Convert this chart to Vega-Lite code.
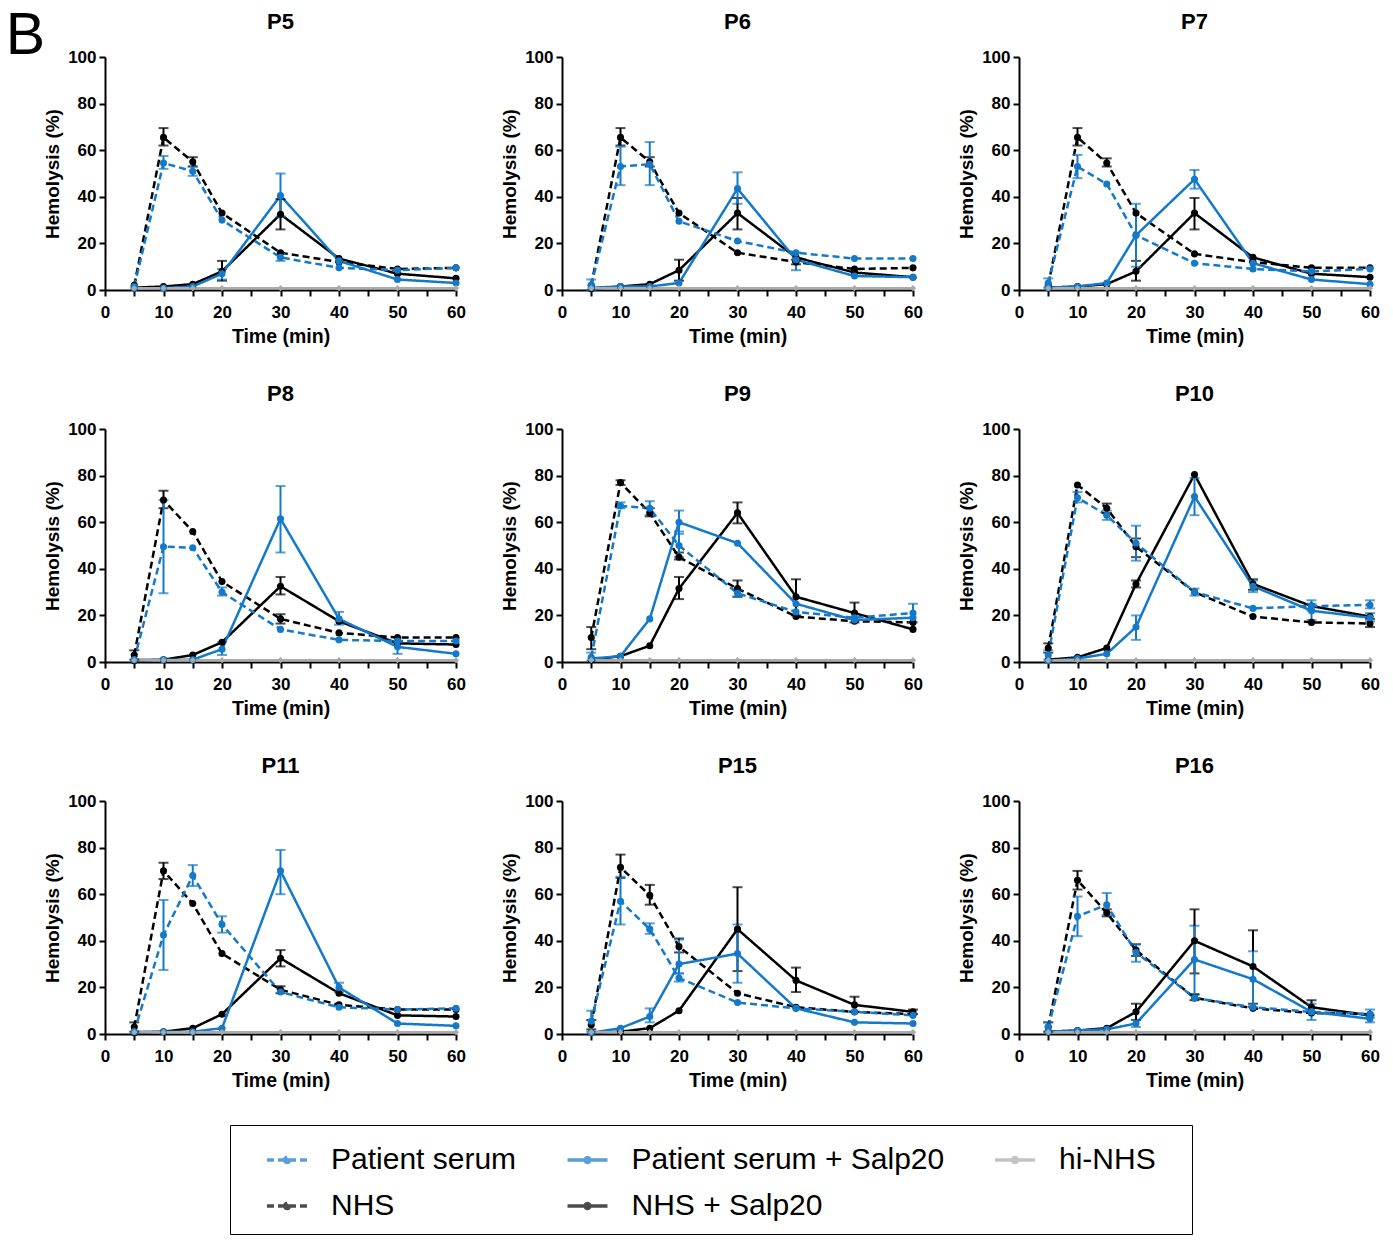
{
  "$schema": "https://vega.github.io/schema/vega-lite/v6.json",
  "padding": {"left": 5, "top": 6, "right": 5, "bottom": 5},
  "title": {"text": "B", "anchor": "start", "frame": "bounds", "fontSize": 59, "font": "Liberation Sans", "fontWeight": "normal", "color": "black", "dy": 54.5, "dx": -38, "offset": 0},
  "datasets": {
    "d": [
      {"p":"P5","s":"NHS","t":5,"v":2},{"p":"P5","s":"NHS","t":10,"v":65.5,"lo":62,"hi":69.5},{"p":"P5","s":"NHS","t":15,"v":55,"lo":53,"hi":57},{"p":"P5","s":"NHS","t":20,"v":33},{"p":"P5","s":"NHS","t":30,"v":16},{"p":"P5","s":"NHS","t":40,"v":12},{"p":"P5","s":"NHS","t":50,"v":9},{"p":"P5","s":"NHS","t":60,"v":9.5},
      {"p":"P5","s":"NHS + Salp20","t":5,"v":1},{"p":"P5","s":"NHS + Salp20","t":10,"v":1.5},{"p":"P5","s":"NHS + Salp20","t":15,"v":2.5},{"p":"P5","s":"NHS + Salp20","t":20,"v":8,"lo":4,"hi":12.5},{"p":"P5","s":"NHS + Salp20","t":30,"v":32.5,"lo":26,"hi":39},{"p":"P5","s":"NHS + Salp20","t":40,"v":13.5},{"p":"P5","s":"NHS + Salp20","t":50,"v":7},{"p":"P5","s":"NHS + Salp20","t":60,"v":5},
      {"p":"P5","s":"Patient serum","t":5,"v":1.5},{"p":"P5","s":"Patient serum","t":10,"v":54.5,"lo":52,"hi":57.5},{"p":"P5","s":"Patient serum","t":15,"v":51,"lo":49,"hi":53},{"p":"P5","s":"Patient serum","t":20,"v":30},{"p":"P5","s":"Patient serum","t":30,"v":14,"lo":12.5,"hi":15.5},{"p":"P5","s":"Patient serum","t":40,"v":9.5},{"p":"P5","s":"Patient serum","t":50,"v":8.5},{"p":"P5","s":"Patient serum","t":60,"v":9.5},
      {"p":"P5","s":"Patient serum + Salp20","t":5,"v":0.8},{"p":"P5","s":"Patient serum + Salp20","t":10,"v":0.8},{"p":"P5","s":"Patient serum + Salp20","t":15,"v":1.5},{"p":"P5","s":"Patient serum + Salp20","t":20,"v":7,"lo":4.5,"hi":9},{"p":"P5","s":"Patient serum + Salp20","t":30,"v":40.5,"lo":31.5,"hi":50},{"p":"P5","s":"Patient serum + Salp20","t":40,"v":12.5},{"p":"P5","s":"Patient serum + Salp20","t":50,"v":4.5},{"p":"P5","s":"Patient serum + Salp20","t":60,"v":3},

      {"p":"P6","s":"NHS","t":5,"v":2},{"p":"P6","s":"NHS","t":10,"v":65.5,"lo":62,"hi":69.5},{"p":"P6","s":"NHS","t":15,"v":55,"lo":53,"hi":57},{"p":"P6","s":"NHS","t":20,"v":33},{"p":"P6","s":"NHS","t":30,"v":16},{"p":"P6","s":"NHS","t":40,"v":12,"lo":11,"hi":13},{"p":"P6","s":"NHS","t":50,"v":9},{"p":"P6","s":"NHS","t":60,"v":9.5},
      {"p":"P6","s":"NHS + Salp20","t":5,"v":0.5},{"p":"P6","s":"NHS + Salp20","t":10,"v":1.5},{"p":"P6","s":"NHS + Salp20","t":15,"v":2.5},{"p":"P6","s":"NHS + Salp20","t":20,"v":8.5,"lo":4,"hi":13},{"p":"P6","s":"NHS + Salp20","t":30,"v":33,"lo":26,"hi":39.5},{"p":"P6","s":"NHS + Salp20","t":40,"v":14},{"p":"P6","s":"NHS + Salp20","t":50,"v":7.5},{"p":"P6","s":"NHS + Salp20","t":60,"v":5.5},
      {"p":"P6","s":"Patient serum","t":5,"v":2,"lo":0,"hi":4.5},{"p":"P6","s":"Patient serum","t":10,"v":53,"lo":45,"hi":61.5},{"p":"P6","s":"Patient serum","t":15,"v":54,"lo":45,"hi":63.5},{"p":"P6","s":"Patient serum","t":20,"v":29.5},{"p":"P6","s":"Patient serum","t":30,"v":21},{"p":"P6","s":"Patient serum","t":40,"v":16},{"p":"P6","s":"Patient serum","t":50,"v":13.5},{"p":"P6","s":"Patient serum","t":60,"v":13.5},
      {"p":"P6","s":"Patient serum + Salp20","t":5,"v":1},{"p":"P6","s":"Patient serum + Salp20","t":10,"v":1.5},{"p":"P6","s":"Patient serum + Salp20","t":15,"v":1.5},{"p":"P6","s":"Patient serum + Salp20","t":20,"v":3},{"p":"P6","s":"Patient serum + Salp20","t":30,"v":43.5,"lo":37,"hi":50.5},{"p":"P6","s":"Patient serum + Salp20","t":40,"v":13,"lo":8.5,"hi":16},{"p":"P6","s":"Patient serum + Salp20","t":50,"v":6},{"p":"P6","s":"Patient serum + Salp20","t":60,"v":5.5},

      {"p":"P7","s":"NHS","t":5,"v":2},{"p":"P7","s":"NHS","t":10,"v":65.5,"lo":62,"hi":69.5},{"p":"P7","s":"NHS","t":15,"v":54.5,"lo":53,"hi":56.5},{"p":"P7","s":"NHS","t":20,"v":33},{"p":"P7","s":"NHS","t":30,"v":15.5},{"p":"P7","s":"NHS","t":40,"v":12},{"p":"P7","s":"NHS","t":50,"v":9.5},{"p":"P7","s":"NHS","t":60,"v":9.5},
      {"p":"P7","s":"NHS + Salp20","t":5,"v":1},{"p":"P7","s":"NHS + Salp20","t":10,"v":1.5},{"p":"P7","s":"NHS + Salp20","t":15,"v":2.5},{"p":"P7","s":"NHS + Salp20","t":20,"v":8,"lo":4,"hi":12.5},{"p":"P7","s":"NHS + Salp20","t":30,"v":33,"lo":26,"hi":39.5},{"p":"P7","s":"NHS + Salp20","t":40,"v":14},{"p":"P7","s":"NHS + Salp20","t":50,"v":7},{"p":"P7","s":"NHS + Salp20","t":60,"v":5.5},
      {"p":"P7","s":"Patient serum","t":5,"v":3,"lo":1,"hi":5},{"p":"P7","s":"Patient serum","t":10,"v":53,"lo":48,"hi":58},{"p":"P7","s":"Patient serum","t":15,"v":45.5},{"p":"P7","s":"Patient serum","t":20,"v":23.5},{"p":"P7","s":"Patient serum","t":30,"v":11.5},{"p":"P7","s":"Patient serum","t":40,"v":9},{"p":"P7","s":"Patient serum","t":50,"v":8},{"p":"P7","s":"Patient serum","t":60,"v":9},
      {"p":"P7","s":"Patient serum + Salp20","t":5,"v":1},{"p":"P7","s":"Patient serum + Salp20","t":10,"v":1.5},{"p":"P7","s":"Patient serum + Salp20","t":15,"v":3},{"p":"P7","s":"Patient serum + Salp20","t":20,"v":23.5,"lo":10,"hi":37},{"p":"P7","s":"Patient serum + Salp20","t":30,"v":47.5,"lo":43.5,"hi":51.5},{"p":"P7","s":"Patient serum + Salp20","t":40,"v":11.5},{"p":"P7","s":"Patient serum + Salp20","t":50,"v":4.5},{"p":"P7","s":"Patient serum + Salp20","t":60,"v":2.5},

      {"p":"P8","s":"NHS","t":5,"v":3,"lo":1,"hi":5},{"p":"P8","s":"NHS","t":10,"v":69.5,"lo":66,"hi":73.5},{"p":"P8","s":"NHS","t":15,"v":56},{"p":"P8","s":"NHS","t":20,"v":34.5},{"p":"P8","s":"NHS","t":30,"v":18.5,"lo":16.5,"hi":20.5},{"p":"P8","s":"NHS","t":40,"v":12.5},{"p":"P8","s":"NHS","t":50,"v":10.5},{"p":"P8","s":"NHS","t":60,"v":10.5},
      {"p":"P8","s":"NHS + Salp20","t":5,"v":0.5},{"p":"P8","s":"NHS + Salp20","t":10,"v":1},{"p":"P8","s":"NHS + Salp20","t":15,"v":3},{"p":"P8","s":"NHS + Salp20","t":20,"v":8.5},{"p":"P8","s":"NHS + Salp20","t":30,"v":32.5,"lo":29,"hi":36.5},{"p":"P8","s":"NHS + Salp20","t":40,"v":17.5},{"p":"P8","s":"NHS + Salp20","t":50,"v":8},{"p":"P8","s":"NHS + Salp20","t":60,"v":7.5},
      {"p":"P8","s":"Patient serum","t":5,"v":1},{"p":"P8","s":"Patient serum","t":10,"v":49.5,"lo":29.5,"hi":69.5},{"p":"P8","s":"Patient serum","t":15,"v":49},{"p":"P8","s":"Patient serum","t":20,"v":30,"lo":28.5,"hi":32},{"p":"P8","s":"Patient serum","t":30,"v":14},{"p":"P8","s":"Patient serum","t":40,"v":9.5},{"p":"P8","s":"Patient serum","t":50,"v":9},{"p":"P8","s":"Patient serum","t":60,"v":9},
      {"p":"P8","s":"Patient serum + Salp20","t":5,"v":1},{"p":"P8","s":"Patient serum + Salp20","t":10,"v":1},{"p":"P8","s":"Patient serum + Salp20","t":15,"v":1},{"p":"P8","s":"Patient serum + Salp20","t":20,"v":5.5,"lo":3,"hi":8.5},{"p":"P8","s":"Patient serum + Salp20","t":30,"v":61.5,"lo":47,"hi":75.5},{"p":"P8","s":"Patient serum + Salp20","t":40,"v":18.5,"lo":16,"hi":21.5},{"p":"P8","s":"Patient serum + Salp20","t":50,"v":6.5,"lo":3.5,"hi":9},{"p":"P8","s":"Patient serum + Salp20","t":60,"v":3.5},

      {"p":"P9","s":"NHS","t":5,"v":10.5,"lo":5.5,"hi":15},{"p":"P9","s":"NHS","t":10,"v":77,"lo":76,"hi":78},{"p":"P9","s":"NHS","t":15,"v":64,"lo":62.5,"hi":66},{"p":"P9","s":"NHS","t":20,"v":45,"lo":44,"hi":47},{"p":"P9","s":"NHS","t":30,"v":31.5,"lo":28,"hi":35},{"p":"P9","s":"NHS","t":40,"v":19.5},{"p":"P9","s":"NHS","t":50,"v":17.5},{"p":"P9","s":"NHS","t":60,"v":17},
      {"p":"P9","s":"NHS + Salp20","t":5,"v":1},{"p":"P9","s":"NHS + Salp20","t":10,"v":2.5},{"p":"P9","s":"NHS + Salp20","t":15,"v":7},{"p":"P9","s":"NHS + Salp20","t":20,"v":31.5,"lo":27,"hi":36.5},{"p":"P9","s":"NHS + Salp20","t":30,"v":64,"lo":59.5,"hi":68.5},{"p":"P9","s":"NHS + Salp20","t":40,"v":28,"lo":20,"hi":35.5},{"p":"P9","s":"NHS + Salp20","t":50,"v":21,"lo":17,"hi":25.5},{"p":"P9","s":"NHS + Salp20","t":60,"v":14},
      {"p":"P9","s":"Patient serum","t":5,"v":2,"lo":0.5,"hi":4},{"p":"P9","s":"Patient serum","t":10,"v":67,"lo":66,"hi":68.5},{"p":"P9","s":"Patient serum","t":15,"v":66,"lo":63,"hi":69},{"p":"P9","s":"Patient serum","t":20,"v":50,"lo":45,"hi":56},{"p":"P9","s":"Patient serum","t":30,"v":29.5,"lo":28,"hi":31},{"p":"P9","s":"Patient serum","t":40,"v":21.5},{"p":"P9","s":"Patient serum","t":50,"v":19},{"p":"P9","s":"Patient serum","t":60,"v":21,"lo":17,"hi":25},
      {"p":"P9","s":"Patient serum + Salp20","t":5,"v":1.5},{"p":"P9","s":"Patient serum + Salp20","t":10,"v":2.5},{"p":"P9","s":"Patient serum + Salp20","t":15,"v":18.5},{"p":"P9","s":"Patient serum + Salp20","t":20,"v":60,"lo":55,"hi":65},{"p":"P9","s":"Patient serum + Salp20","t":30,"v":51},{"p":"P9","s":"Patient serum + Salp20","t":40,"v":25},{"p":"P9","s":"Patient serum + Salp20","t":50,"v":18},{"p":"P9","s":"Patient serum + Salp20","t":60,"v":19},

      {"p":"P10","s":"NHS","t":5,"v":6,"lo":4,"hi":8},{"p":"P10","s":"NHS","t":10,"v":76},{"p":"P10","s":"NHS","t":15,"v":66,"lo":64,"hi":68},{"p":"P10","s":"NHS","t":20,"v":49.5,"lo":45,"hi":53},{"p":"P10","s":"NHS","t":30,"v":30},{"p":"P10","s":"NHS","t":40,"v":19.5},{"p":"P10","s":"NHS","t":50,"v":17},{"p":"P10","s":"NHS","t":60,"v":16.5,"lo":15,"hi":18.5},
      {"p":"P10","s":"NHS + Salp20","t":5,"v":1},{"p":"P10","s":"NHS + Salp20","t":10,"v":2},{"p":"P10","s":"NHS + Salp20","t":15,"v":6},{"p":"P10","s":"NHS + Salp20","t":20,"v":33.5,"lo":32,"hi":35},{"p":"P10","s":"NHS + Salp20","t":30,"v":80.5},{"p":"P10","s":"NHS + Salp20","t":40,"v":33.5,"lo":31,"hi":35.5},{"p":"P10","s":"NHS + Salp20","t":50,"v":24},{"p":"P10","s":"NHS + Salp20","t":60,"v":19.5},
      {"p":"P10","s":"Patient serum","t":5,"v":3,"lo":1,"hi":5},{"p":"P10","s":"Patient serum","t":10,"v":70.5,"lo":68.5,"hi":73},{"p":"P10","s":"Patient serum","t":15,"v":63,"lo":61,"hi":65},{"p":"P10","s":"Patient serum","t":20,"v":51,"lo":43.5,"hi":58.5},{"p":"P10","s":"Patient serum","t":30,"v":30,"lo":28.5,"hi":31.5},{"p":"P10","s":"Patient serum","t":40,"v":23},{"p":"P10","s":"Patient serum","t":50,"v":24,"lo":22,"hi":26.5},{"p":"P10","s":"Patient serum","t":60,"v":24.5,"lo":23,"hi":26.5},
      {"p":"P10","s":"Patient serum + Salp20","t":5,"v":0.5},{"p":"P10","s":"Patient serum + Salp20","t":10,"v":1.5},{"p":"P10","s":"Patient serum + Salp20","t":15,"v":3.5},{"p":"P10","s":"Patient serum + Salp20","t":20,"v":15,"lo":9.5,"hi":20},{"p":"P10","s":"Patient serum + Salp20","t":30,"v":71,"lo":63,"hi":79},{"p":"P10","s":"Patient serum + Salp20","t":40,"v":32.5,"lo":30,"hi":35},{"p":"P10","s":"Patient serum + Salp20","t":50,"v":22,"lo":18,"hi":25},{"p":"P10","s":"Patient serum + Salp20","t":60,"v":19,"lo":17.5,"hi":21},

      {"p":"P11","s":"NHS","t":5,"v":3,"lo":1,"hi":5},{"p":"P11","s":"NHS","t":10,"v":70,"lo":66.5,"hi":73.5},{"p":"P11","s":"NHS","t":15,"v":56},{"p":"P11","s":"NHS","t":20,"v":34.5},{"p":"P11","s":"NHS","t":30,"v":19,"lo":17.5,"hi":20.5},{"p":"P11","s":"NHS","t":40,"v":12.5},{"p":"P11","s":"NHS","t":50,"v":10.5},{"p":"P11","s":"NHS","t":60,"v":10.5},
      {"p":"P11","s":"NHS + Salp20","t":5,"v":0.5},{"p":"P11","s":"NHS + Salp20","t":10,"v":1},{"p":"P11","s":"NHS + Salp20","t":15,"v":2.5},{"p":"P11","s":"NHS + Salp20","t":20,"v":8.5},{"p":"P11","s":"NHS + Salp20","t":30,"v":32.5,"lo":29,"hi":36},{"p":"P11","s":"NHS + Salp20","t":40,"v":17.5},{"p":"P11","s":"NHS + Salp20","t":50,"v":8},{"p":"P11","s":"NHS + Salp20","t":60,"v":7.5},
      {"p":"P11","s":"Patient serum","t":5,"v":1},{"p":"P11","s":"Patient serum","t":10,"v":42.5,"lo":27.5,"hi":57.5},{"p":"P11","s":"Patient serum","t":15,"v":68,"lo":63.5,"hi":72.5},{"p":"P11","s":"Patient serum","t":20,"v":47,"lo":43.5,"hi":50.5},{"p":"P11","s":"Patient serum","t":30,"v":18},{"p":"P11","s":"Patient serum","t":40,"v":11.5},{"p":"P11","s":"Patient serum","t":50,"v":10.5},{"p":"P11","s":"Patient serum","t":60,"v":11},
      {"p":"P11","s":"Patient serum + Salp20","t":5,"v":1},{"p":"P11","s":"Patient serum + Salp20","t":10,"v":1},{"p":"P11","s":"Patient serum + Salp20","t":15,"v":1},{"p":"P11","s":"Patient serum + Salp20","t":20,"v":2.5},{"p":"P11","s":"Patient serum + Salp20","t":30,"v":70,"lo":60,"hi":79},{"p":"P11","s":"Patient serum + Salp20","t":40,"v":20,"lo":18,"hi":22},{"p":"P11","s":"Patient serum + Salp20","t":50,"v":4.5},{"p":"P11","s":"Patient serum + Salp20","t":60,"v":3.5},

      {"p":"P15","s":"NHS","t":5,"v":4,"lo":2,"hi":6},{"p":"P15","s":"NHS","t":10,"v":71.5,"lo":67,"hi":77},{"p":"P15","s":"NHS","t":15,"v":59.5,"lo":55.5,"hi":64},{"p":"P15","s":"NHS","t":20,"v":37.5,"lo":35,"hi":41},{"p":"P15","s":"NHS","t":30,"v":17.5},{"p":"P15","s":"NHS","t":40,"v":11.5},{"p":"P15","s":"NHS","t":50,"v":9.5},{"p":"P15","s":"NHS","t":60,"v":8.5},
      {"p":"P15","s":"NHS + Salp20","t":5,"v":0.5},{"p":"P15","s":"NHS + Salp20","t":10,"v":1},{"p":"P15","s":"NHS + Salp20","t":15,"v":2.5},{"p":"P15","s":"NHS + Salp20","t":20,"v":10},{"p":"P15","s":"NHS + Salp20","t":30,"v":45,"lo":27,"hi":63},{"p":"P15","s":"NHS + Salp20","t":40,"v":23,"lo":18,"hi":28.5},{"p":"P15","s":"NHS + Salp20","t":50,"v":12.5,"lo":9.5,"hi":16},{"p":"P15","s":"NHS + Salp20","t":60,"v":9.5,"lo":8.5,"hi":10.5},
      {"p":"P15","s":"Patient serum","t":5,"v":5.5,"lo":1,"hi":10},{"p":"P15","s":"Patient serum","t":10,"v":57,"lo":47,"hi":67.5},{"p":"P15","s":"Patient serum","t":15,"v":45,"lo":43,"hi":47.5},{"p":"P15","s":"Patient serum","t":20,"v":24,"lo":22.5,"hi":26},{"p":"P15","s":"Patient serum","t":30,"v":13.5},{"p":"P15","s":"Patient serum","t":40,"v":11},{"p":"P15","s":"Patient serum","t":50,"v":9.5},{"p":"P15","s":"Patient serum","t":60,"v":8},
      {"p":"P15","s":"Patient serum + Salp20","t":5,"v":0.5},{"p":"P15","s":"Patient serum + Salp20","t":10,"v":2.5},{"p":"P15","s":"Patient serum + Salp20","t":15,"v":7.5,"lo":5,"hi":11},{"p":"P15","s":"Patient serum + Salp20","t":20,"v":30,"lo":26,"hi":40.5},{"p":"P15","s":"Patient serum + Salp20","t":30,"v":34.5,"lo":22,"hi":47},{"p":"P15","s":"Patient serum + Salp20","t":40,"v":11},{"p":"P15","s":"Patient serum + Salp20","t":50,"v":5},{"p":"P15","s":"Patient serum + Salp20","t":60,"v":4.5},

      {"p":"P16","s":"NHS","t":5,"v":3,"lo":1,"hi":5},{"p":"P16","s":"NHS","t":10,"v":66,"lo":62,"hi":70},{"p":"P16","s":"NHS","t":15,"v":52,"lo":50.5,"hi":53.5},{"p":"P16","s":"NHS","t":20,"v":36,"lo":33.5,"hi":38.5},{"p":"P16","s":"NHS","t":30,"v":15.5,"lo":14.5,"hi":17},{"p":"P16","s":"NHS","t":40,"v":11},{"p":"P16","s":"NHS","t":50,"v":9},{"p":"P16","s":"NHS","t":60,"v":8.5},
      {"p":"P16","s":"NHS + Salp20","t":5,"v":1},{"p":"P16","s":"NHS + Salp20","t":10,"v":1.5},{"p":"P16","s":"NHS + Salp20","t":15,"v":2.5},{"p":"P16","s":"NHS + Salp20","t":20,"v":9.5,"lo":6,"hi":13},{"p":"P16","s":"NHS + Salp20","t":30,"v":40,"lo":26,"hi":53.5},{"p":"P16","s":"NHS + Salp20","t":40,"v":29,"lo":13,"hi":44.5},{"p":"P16","s":"NHS + Salp20","t":50,"v":11.5,"lo":9,"hi":14.5},{"p":"P16","s":"NHS + Salp20","t":60,"v":8},
      {"p":"P16","s":"Patient serum","t":5,"v":3,"lo":1,"hi":5},{"p":"P16","s":"Patient serum","t":10,"v":50.5,"lo":42,"hi":59},{"p":"P16","s":"Patient serum","t":15,"v":55.5,"lo":51,"hi":60.5},{"p":"P16","s":"Patient serum","t":20,"v":35,"lo":31,"hi":38.5},{"p":"P16","s":"Patient serum","t":30,"v":15.5},{"p":"P16","s":"Patient serum","t":40,"v":11.5},{"p":"P16","s":"Patient serum","t":50,"v":9.5},{"p":"P16","s":"Patient serum","t":60,"v":8.5,"lo":7,"hi":10.5},
      {"p":"P16","s":"Patient serum + Salp20","t":5,"v":1},{"p":"P16","s":"Patient serum + Salp20","t":10,"v":1.5},{"p":"P16","s":"Patient serum + Salp20","t":15,"v":2},{"p":"P16","s":"Patient serum + Salp20","t":20,"v":4.5,"lo":3,"hi":6},{"p":"P16","s":"Patient serum + Salp20","t":30,"v":32,"lo":17,"hi":46.5},{"p":"P16","s":"Patient serum + Salp20","t":40,"v":23.5,"lo":11.5,"hi":35.5},{"p":"P16","s":"Patient serum + Salp20","t":50,"v":9.5,"lo":6,"hi":13},{"p":"P16","s":"Patient serum + Salp20","t":60,"v":6.5,"lo":5,"hi":8},

      {"p":"P5","s":"hi-NHS","t":5,"v":0.8},{"p":"P5","s":"hi-NHS","t":10,"v":0.8},{"p":"P5","s":"hi-NHS","t":15,"v":0.8},{"p":"P5","s":"hi-NHS","t":20,"v":0.8},{"p":"P5","s":"hi-NHS","t":30,"v":0.8},{"p":"P5","s":"hi-NHS","t":40,"v":0.8},{"p":"P5","s":"hi-NHS","t":50,"v":0.8},{"p":"P5","s":"hi-NHS","t":60,"v":0.8},
      {"p":"P6","s":"hi-NHS","t":5,"v":0.8},{"p":"P6","s":"hi-NHS","t":10,"v":0.8},{"p":"P6","s":"hi-NHS","t":15,"v":0.8},{"p":"P6","s":"hi-NHS","t":20,"v":0.8},{"p":"P6","s":"hi-NHS","t":30,"v":0.8},{"p":"P6","s":"hi-NHS","t":40,"v":0.8},{"p":"P6","s":"hi-NHS","t":50,"v":0.8},{"p":"P6","s":"hi-NHS","t":60,"v":0.8},
      {"p":"P7","s":"hi-NHS","t":5,"v":0.8},{"p":"P7","s":"hi-NHS","t":10,"v":0.8},{"p":"P7","s":"hi-NHS","t":15,"v":0.8},{"p":"P7","s":"hi-NHS","t":20,"v":0.8},{"p":"P7","s":"hi-NHS","t":30,"v":0.8},{"p":"P7","s":"hi-NHS","t":40,"v":0.8},{"p":"P7","s":"hi-NHS","t":50,"v":0.8},{"p":"P7","s":"hi-NHS","t":60,"v":0.8},
      {"p":"P8","s":"hi-NHS","t":5,"v":0.8},{"p":"P8","s":"hi-NHS","t":10,"v":0.8},{"p":"P8","s":"hi-NHS","t":15,"v":0.8},{"p":"P8","s":"hi-NHS","t":20,"v":0.8},{"p":"P8","s":"hi-NHS","t":30,"v":0.8},{"p":"P8","s":"hi-NHS","t":40,"v":0.8},{"p":"P8","s":"hi-NHS","t":50,"v":0.8},{"p":"P8","s":"hi-NHS","t":60,"v":0.8},
      {"p":"P9","s":"hi-NHS","t":5,"v":0.8},{"p":"P9","s":"hi-NHS","t":10,"v":0.8},{"p":"P9","s":"hi-NHS","t":15,"v":0.8},{"p":"P9","s":"hi-NHS","t":20,"v":0.8},{"p":"P9","s":"hi-NHS","t":30,"v":0.8},{"p":"P9","s":"hi-NHS","t":40,"v":0.8},{"p":"P9","s":"hi-NHS","t":50,"v":0.8},{"p":"P9","s":"hi-NHS","t":60,"v":0.8},
      {"p":"P10","s":"hi-NHS","t":5,"v":0.8},{"p":"P10","s":"hi-NHS","t":10,"v":0.8},{"p":"P10","s":"hi-NHS","t":15,"v":0.8},{"p":"P10","s":"hi-NHS","t":20,"v":0.8},{"p":"P10","s":"hi-NHS","t":30,"v":0.8},{"p":"P10","s":"hi-NHS","t":40,"v":0.8},{"p":"P10","s":"hi-NHS","t":50,"v":0.8},{"p":"P10","s":"hi-NHS","t":60,"v":0.8},
      {"p":"P11","s":"hi-NHS","t":5,"v":0.8},{"p":"P11","s":"hi-NHS","t":10,"v":0.8},{"p":"P11","s":"hi-NHS","t":15,"v":0.8},{"p":"P11","s":"hi-NHS","t":20,"v":0.8},{"p":"P11","s":"hi-NHS","t":30,"v":0.8},{"p":"P11","s":"hi-NHS","t":40,"v":0.8},{"p":"P11","s":"hi-NHS","t":50,"v":0.8},{"p":"P11","s":"hi-NHS","t":60,"v":0.8},
      {"p":"P15","s":"hi-NHS","t":5,"v":0.8},{"p":"P15","s":"hi-NHS","t":10,"v":0.8},{"p":"P15","s":"hi-NHS","t":15,"v":0.8},{"p":"P15","s":"hi-NHS","t":20,"v":0.8},{"p":"P15","s":"hi-NHS","t":30,"v":0.8},{"p":"P15","s":"hi-NHS","t":40,"v":0.8},{"p":"P15","s":"hi-NHS","t":50,"v":0.8},{"p":"P15","s":"hi-NHS","t":60,"v":0.8},
      {"p":"P16","s":"hi-NHS","t":5,"v":0.8},{"p":"P16","s":"hi-NHS","t":10,"v":0.8},{"p":"P16","s":"hi-NHS","t":15,"v":0.8},{"p":"P16","s":"hi-NHS","t":20,"v":0.8},{"p":"P16","s":"hi-NHS","t":30,"v":0.8},{"p":"P16","s":"hi-NHS","t":40,"v":0.8},{"p":"P16","s":"hi-NHS","t":50,"v":0.8},{"p":"P16","s":"hi-NHS","t":60,"v":0.8}
    ]
  },
  "data": {"name": "d"},
  "facet": {
    "field": "p", "type": "nominal",
    "sort": ["P5","P6","P7","P8","P9","P10","P11","P15","P16"],
    "header": {"title": null, "labelFontSize": 22, "labelFontWeight": "bold", "labelFont": "Liberation Sans", "labelColor": "black", "labelPadding": 14}
  },
  "columns": 3,
  "spacing": {"row": 139, "column": 106},
  "bounds": "flush",
  "resolve": {"axis": {"x": "independent", "y": "independent"}},
  "spec": {
    "width": 351,
    "height": 233,
    "encoding": {
      "x": {"field": "t", "type": "quantitative", "scale": {"domain": [0, 60], "nice": false},
        "axis": {"title": "Time (min)", "values": [0,5,10,15,20,25,30,35,40,45,50,55,60], "labelExpr": "datum.value % 10 === 0 ? datum.label : ''", "labelPadding": 8, "titlePadding": 7, "labelFlush": false}},
      "color": {"field": "s", "type": "nominal",
        "scale": {"domain": ["Patient serum","Patient serum + Salp20","hi-NHS","NHS","NHS + Salp20"], "range": ["#1479c9","#1479c9","#aaaaaa","#000000","#000000"]}}
    },
    "layer": [
      {
        "mark": {"type": "line", "strokeWidth": 2.5},
        "encoding": {
          "y": {"field": "v", "type": "quantitative", "scale": {"domain": [0, 100], "nice": false},
            "axis": {"title": "Hemolysis (%)", "values": [0,20,40,60,80,100], "labelFlush": false}},
          "strokeDash": {"field": "s", "type": "nominal",
            "scale": {"domain": ["Patient serum","Patient serum + Salp20","hi-NHS","NHS","NHS + Salp20"], "range": [[7,4],[1,0],[1,0],[7,4],[1,0]]}},
          "color": {"field": "s", "type": "nominal",
            "legend": {"title": " ", "titleOrient": "right", "titlePadding": 23, "titleFontSize": 30, "orient": "none", "legendX": 125, "legendY": 1068, "columns": 3, "direction": "horizontal",
              "strokeColor": "black", "padding": 13, "columnPadding": 26.5, "rowPadding": 9, "symbolOffset": 22,
              "labelFontSize": 30, "labelFont": "Liberation Sans", "labelColor": "black", "labelLimit": 0, "labelOffset": 22,
              "symbolType": "M-1,0H1M-0.12,0A0.12,0.12,0,1,0,0.12,0A0.12,0.12,0,1,0,-0.12,0Z",
              "symbolSize": 1600, "symbolStrokeWidth": 3.5, "symbolOpacity": 1}}
        }
      },
      {
        "transform": [{"filter": "isValid(datum.lo)"}],
        "mark": {"type": "errorbar", "ticks": {"size": 10, "thickness": 2}, "thickness": 2},
        "encoding": {
          "y": {"field": "lo", "type": "quantitative", "title": "Hemolysis (%)"},
          "y2": {"field": "hi"}
        }
      },
      {
        "transform": [{"filter": "datum.s !== 'hi-NHS'"}],
        "mark": {"type": "point", "filled": true, "opacity": 1, "size": 50, "shape": "circle"},
        "encoding": {
          "y": {"field": "v", "type": "quantitative"}
        }
      },
      {
        "transform": [{"filter": "datum.s === 'hi-NHS'"}],
        "mark": {"type": "point", "filled": true, "opacity": 1, "size": 40, "shape": "diamond"},
        "encoding": {
          "y": {"field": "v", "type": "quantitative"}
        }
      }
    ]
  },
  "config": {
    "view": {"stroke": null},
    "axis": {"grid": false, "domainColor": "black", "domainWidth": 2, "tickColor": "black", "tickWidth": 2, "tickSize": 6,
      "labelFont": "Liberation Sans", "labelFontWeight": "bold", "labelFontSize": 17, "labelColor": "black", "labelPadding": 3,
      "titleFont": "Liberation Sans", "titleFontWeight": "bold", "titleFontSize": 19.5, "titleColor": "black", "titlePadding": 6},
    "axisY": {"titleFontSize": 19, "titlePadding": 5}
  }
}
